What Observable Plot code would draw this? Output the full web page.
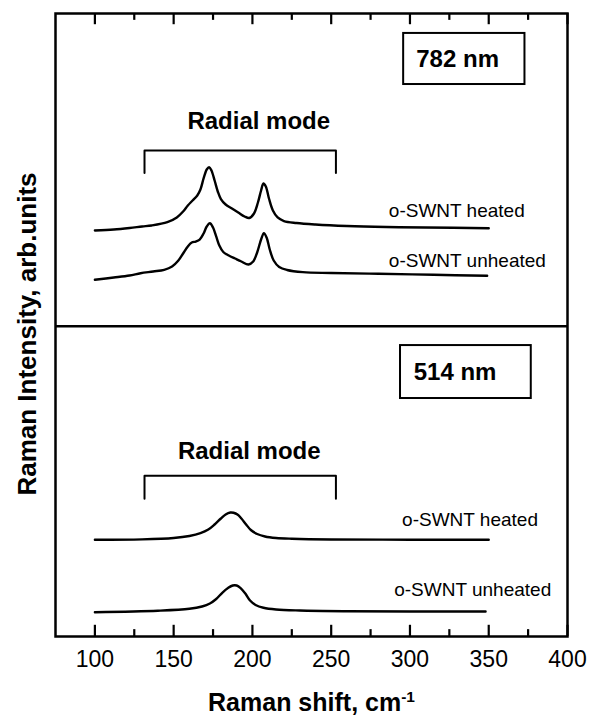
<!DOCTYPE html>
<html>
<head>
<meta charset="utf-8">
<script src="https://cdn.jsdelivr.net/npm/d3@7"></script>
<script src="https://cdn.jsdelivr.net/npm/@observablehq/plot@0.6"></script>
<style>
  html, body { margin: 0; padding: 0; background: #fff; }
  svg { display: block; }
</style>
</head>
<body>
<div id="chart"></div>
<script>
// ---- Data (Raman shift in cm^-1, intensity in arbitrary offset units) ----
const heated782 = [
  [100,65.17],[112,65.33],[122,65.57],[130,65.81],[136,65.97],[146,66.50],[152,67.26],[156,68.22],
  [159,69.18],[162,69.98],[165,70.79],[167,71.75],[169,73.52],[171,74.96],[172.5,75.33],[174,74.80],
  [176,73.19],[178,71.43],[180,70.22],[183,69.34],[187,68.70],[191,68.06],[195,67.42],[198,67.18],
  [201,67.90],[203.5,69.66],[205.5,71.59],[207,72.71],[208.5,72.23],[210.5,70.30],[213,68.38],
  [216,67.26],[220,66.69],[228,66.37],[240,66.13],[260,65.89],[285,65.73],[310,65.65],[350,65.54]
];
const unheated782 = [
  [100,57.26],[112,57.62],[122,57.95],[129,58.31],[137,58.59],[144,58.86],[149,59.39],[153,60.35],
  [156,61.48],[159,62.60],[161.5,63.24],[164,63.40],[166.5,63.72],[169,64.69],[171,65.81],[173,66.34],
  [175,65.65],[177,64.21],[179,62.76],[181.5,61.72],[185,61.16],[189,60.67],[193,60.19],[197.5,59.71],
  [200.5,60.19],[203,61.64],[205.5,63.72],[207.3,64.74],[209,64.04],[211,62.12],[213.5,60.35],
  [217,59.31],[222,58.83],[232,58.48],[250,58.35],[280,58.22],[315,58.06],[349,57.90]
];
const heated514 = [
  [100,15.52],[130,15.59],[150,15.81],[160,16.13],[167,16.58],[172,17.17],[176,17.98],[180,18.94],
  [183,19.58],[186,19.90],[188,19.86],[190.5,19.58],[193,18.94],[196,17.98],[199,17.09],[203,16.45],
  [208,16.05],[215,15.81],[225,15.69],[250,15.57],[300,15.54],[350,15.52]
];
const unheated514 = [
  [100,3.90],[140,4.14],[160,4.45],[168,4.82],[173,5.30],[177,6.02],[181,7.06],[184.5,7.78],
  [187.5,8.19],[190,8.19],[192.5,7.78],[195.5,6.90],[198.5,5.78],[202,5.06],[207,4.61],[215,4.33],
  [230,4.17],[260,4.06],[300,4.01],[348,4.01]
];

// Axis ticks
const majorTicks = [100, 150, 200, 250, 300, 350, 400];
const minorTicks = [125, 175, 225, 275, 325, 375];

// Panel annotations
const laserLabels = ["782 nm", "514 nm"];
const laserBoxX1 = [296, 294];
const laserBoxX2 = [373, 377];
const laserBoxY1 = [88.6, 38.2];
const laserBoxY2 = [96.8, 46.7];
const laserTextX = [304, 302.4];
const laserTextY = [91.4, 41.1];

const modeLabel = "Radial mode";
const modeTextX = [204, 198];
const modeTextY = [81.5, 28.5];
const bracketX = [131.5, 253];
const bracketTop = [78.0, 25.8];
const bracketBottom = [74.4, 22.1];

const seriesLabels = ["o-SWNT heated", "o-SWNT unheated", "o-SWNT heated", "o-SWNT unheated"];
const seriesLabelX = [286.6, 286.6, 295, 290];
const seriesLabelY = [67.3, 59.3, 17.8, 6.5];

const xLabel = "Raman shift, cm-1";
const yLabel = "Raman Intensity, arb.units";
const panelDivider = 49.8;

// ---- Build tables ----
const series = [
  {name: "782 heated", pts: heated782},
  {name: "782 unheated", pts: unheated782},
  {name: "514 heated", pts: heated514},
  {name: "514 unheated", pts: unheated514}
].flatMap(s => s.pts.map(([x, y]) => ({series: s.name, x, y})));

const boxes = laserLabels.map((t, i) => ({t, x1: laserBoxX1[i], x2: laserBoxX2[i], y1: laserBoxY1[i], y2: laserBoxY2[i], tx: laserTextX[i], ty: laserTextY[i]}));
const brackets = [0, 1].flatMap(i => [
  {b: i, x: bracketX[0], y: bracketBottom[i]},
  {b: i, x: bracketX[0], y: bracketTop[i]},
  {b: i, x: bracketX[1], y: bracketTop[i]},
  {b: i, x: bracketX[1], y: bracketBottom[i]}
]);
const modeTexts = modeTextX.map((x, i) => ({x, y: modeTextY[i]}));
const sLabels = seriesLabels.map((t, i) => ({t, x: seriesLabelX[i], y: seriesLabelY[i]}));

const font = "'Liberation Sans', Arial, Helvetica, sans-serif";

const svg = Plot.plot({
  width: 591,
  height: 717,
  marginLeft: 55,
  marginRight: 24,
  marginTop: 13,
  marginBottom: 81,
  style: {fontFamily: font, fontSize: "23px", color: "black", background: "white", overflow: "visible"},
  x: {domain: [75, 400], ticks: majorTicks, tickSize: 0, tickPadding: 14, label: null},
  y: {domain: [0, 100], axis: null},
  marks: [
    Plot.ruleX(majorTicks, {x: d => d, y1: 0, y2: 1.8, strokeWidth: 2.2}),
    Plot.ruleX(minorTicks, {x: d => d, y1: 0, y2: 1.1, strokeWidth: 2.2}),
    Plot.ruleX(majorTicks, {x: d => d, y1: 100, y2: 98.2, strokeWidth: 2.2}),
    Plot.ruleX(minorTicks, {x: d => d, y1: 100, y2: 98.9, strokeWidth: 2.2}),
    Plot.ruleY([panelDivider], {strokeWidth: 2.5}),
    Plot.line(series, {x: "x", y: "y", z: "series", curve: "catmull-rom", stroke: "black", strokeWidth: 2.4}),
    Plot.rect(boxes, {x1: "x1", x2: "x2", y1: "y1", y2: "y2", fill: "none", stroke: "black", strokeWidth: 2}),
    Plot.text(boxes, {x: "tx", y: "ty", text: "t", textAnchor: "start", lineAnchor: "bottom", fontWeight: "bold", fontSize: 24}),
    Plot.line(brackets, {x: "x", y: "y", z: "b", stroke: "black", strokeWidth: 2}),
    Plot.text(modeTexts, {x: "x", y: "y", text: () => modeLabel, textAnchor: "middle", lineAnchor: "bottom", fontWeight: "bold", fontSize: 24}),
    Plot.text(sLabels, {x: "x", y: "y", text: "t", textAnchor: "start", lineAnchor: "bottom", fontSize: 19}),
    Plot.text([xLabel], {frameAnchor: "bottom", textAnchor: "middle", dy: 74, text: d => d, fontWeight: "bold", fontSize: 25, lineAnchor: "bottom"}),
    Plot.text([yLabel], {frameAnchor: "left", textAnchor: "middle", lineAnchor: "middle", rotate: -90, dx: -28, dy: 9, text: d => d, fontWeight: "bold", fontSize: 26}),
    Plot.frame({stroke: "black", strokeWidth: 2.5})
  ]
});

// superscript for the x-axis unit
d3.select(svg).selectAll("text").filter(function () { return this.textContent === xLabel; }).each(function () {
  const t = d3.select(this);
  t.text(null);
  t.append("tspan").text("Raman shift, cm");
  t.append("tspan").attr("dy", "-0.55em").attr("font-size", "0.62em").text("-1");
});

document.getElementById("chart").appendChild(svg);
</script>
</body>
</html>
